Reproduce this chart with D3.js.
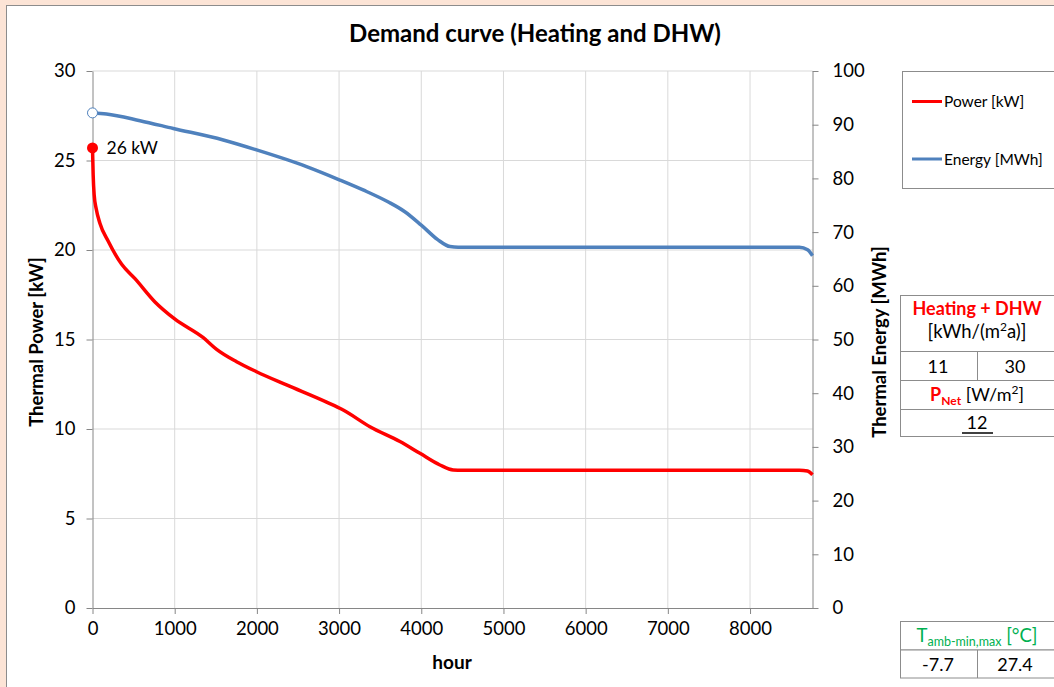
<!DOCTYPE html>
<html>
<head>
<meta charset="utf-8">
<script src="https://cdn.jsdelivr.net/npm/d3@7"></script>
<style>
  body { margin: 0; background: #fce4d6; }
  svg { display: block; font-family: Lato, "Open Sans", sans-serif; }
</style>
</head>
<body>
<svg id="root" width="1054" height="687"></svg>
<script>
(function () {
  // values
  const powerHours = [0, 8, 20, 45, 90, 190, 355, 517, 760, 1000, 1348, 1510, 1753, 1996, 2361, 2848, 3050, 3375, 3741, 3984, 4227, 4389, 4500, 6000, 8600, 8700, 8760];
  const powerValues = [25.7, 24.2, 23.1, 22.3, 21.5, 20.5, 19.2, 18.4, 17.1, 16.15, 15.1, 14.45, 13.76, 13.2, 12.46, 11.5, 11.06, 10.13, 9.3, 8.64, 7.99, 7.71, 7.7, 7.7, 7.7, 7.65, 7.45];

  const energyHours = [0, 170, 578, 983, 1591, 1996, 2604, 3010, 3300, 3600, 3800, 4000, 4200, 4350, 4450, 6000, 8600, 8700, 8760];
  const energyValues = [92.2, 92.0, 90.75, 89.3, 87.15, 85.3, 82.2, 79.7, 77.8, 75.6, 73.8, 71.3, 68.6, 67.3, 67.2, 67.2, 67.2, 66.7, 65.6];

  const xTicks = [0, 1000, 2000, 3000, 4000, 5000, 6000, 7000, 8000];
  const leftTicks = [0, 5, 10, 15, 20, 25, 30];
  const rightTicks = [0, 10, 20, 30, 40, 50, 60, 70, 80, 90, 100];

  const peakLabel = "26 kW";
  const legendItems = [
    { name: "Power [kW]", color: "#ff0000" },
    { name: "Energy [MWh]", color: "#4f81bd" }
  ];
  const specific = ["11", "30"];
  const pNet = "12";
  const tAmb = ["-7.7", "27.4"];

  const svg = d3.select("#root");
  const left = 92.5, right = 812.5, top = 71, bottom = 608;

  // chart panel
  svg.append("rect")
    .attr("x", 6.5).attr("y", 5.5)
    .attr("width", 1060).attr("height", 700)
    .attr("fill", "#fff").attr("stroke", "#8c8c8c");

  const x = d3.scaleLinear().domain([0, 8760]).range([left, right]);
  const yL = d3.scaleLinear().domain([0, 30]).range([bottom, top]);
  const yR = d3.scaleLinear().domain([0, 100]).range([bottom, top]);

  // grid
  svg.append("g").selectAll("line")
    .data(xTicks.filter(d => d > 0))
    .enter().append("line")
    .attr("x1", d => x(d)).attr("x2", d => x(d))
    .attr("y1", top).attr("y2", bottom)
    .attr("stroke", "#d9d9d9");

  svg.append("g").selectAll("line")
    .data(leftTicks.filter(d => d > 0))
    .enter().append("line")
    .attr("x1", left).attr("x2", right)
    .attr("y1", d => yL(d)).attr("y2", d => yL(d))
    .attr("stroke", "#d9d9d9");

  // axes
  function styleAxis(g) {
    g.select(".domain").attr("stroke", "#868686");
    g.selectAll(".tick line").attr("stroke", "#868686");
    g.selectAll(".tick text").attr("fill", "#000").style("font-size", "18.5px").style("font-family", "Lato, sans-serif");
  }

  svg.append("g")
    .attr("transform", `translate(0,${bottom})`)
    .call(d3.axisBottom(x).tickValues(xTicks).tickSize(6).tickSizeOuter(0).tickPadding(8).tickFormat(d3.format("d")))
    .call(styleAxis);

  svg.append("g")
    .attr("transform", `translate(${left},0)`)
    .call(d3.axisLeft(yL).tickValues(leftTicks).tickSize(6).tickSizeOuter(0).tickPadding(11))
    .call(styleAxis);

  svg.append("g")
    .attr("transform", `translate(${right},0)`)
    .call(d3.axisRight(yR).tickValues(rightTicks).tickSize(6).tickSizeOuter(0).tickPadding(14))
    .call(styleAxis);

  // lines
  const power = powerHours.map((h, i) => [h, powerValues[i]]);
  const energy = energyHours.map((h, i) => [h, energyValues[i]]);

  svg.append("path")
    .datum(energy)
    .attr("fill", "none").attr("stroke", "#4f81bd").attr("stroke-width", 3.5)
    .attr("d", d3.line().x(d => x(d[0])).y(d => yR(d[1])).curve(d3.curveMonotoneX));

  svg.append("path")
    .datum(power)
    .attr("fill", "none").attr("stroke", "#ff0000").attr("stroke-width", 3.5)
    .attr("d", d3.line().x(d => x(d[0])).y(d => yL(d[1])).curve(d3.curveMonotoneX));

  svg.append("circle")
    .attr("cx", x(energy[0][0])).attr("cy", yR(energy[0][1])).attr("r", 5)
    .attr("fill", "#fff").attr("stroke", "#4f81bd").attr("stroke-width", 1);

  svg.append("circle")
    .attr("cx", x(power[0][0])).attr("cy", yL(power[0][1])).attr("r", 5.5)
    .attr("fill", "#ff0000");

  svg.append("text")
    .attr("x", x(0) + 14).attr("y", yL(power[0][1]) + 6)
    .style("font-size", "17.5px").text(peakLabel);

  // titles
  svg.append("text")
    .attr("x", 535).attr("y", 42).attr("text-anchor", "middle")
    .style("font-size", "24px").style("font-weight", "bold")
    .text("Demand curve (Heating and DHW)");

  svg.append("text")
    .attr("x", 452).attr("y", 669).attr("text-anchor", "middle")
    .style("font-size", "19px").style("font-weight", "bold")
    .text("hour");

  svg.append("text")
    .attr("transform", "translate(43,342) rotate(-90)").attr("text-anchor", "middle")
    .style("font-size", "18.5px").style("font-weight", "bold")
    .text("Thermal Power [kW]");

  svg.append("text")
    .attr("transform", "translate(886,342) rotate(-90)").attr("text-anchor", "middle")
    .style("font-size", "18.5px").style("font-weight", "bold")
    .text("Thermal Energy [MWh]");

  // legend
  svg.append("rect")
    .attr("x", 902.5).attr("y", 71.5).attr("width", 170).attr("height", 117)
    .attr("fill", "#fff").attr("stroke", "#8c8c8c");

  const leg = svg.append("g").selectAll("g")
    .data(legendItems).enter().append("g")
    .attr("transform", (d, i) => `translate(912,${101.5 + i * 57.5})`);
  leg.append("line").attr("x1", 0).attr("x2", 30)
    .attr("stroke", d => d.color).attr("stroke-width", 3);
  leg.append("text").attr("x", 32).attr("y", 5.5)
    .style("font-size", "15.5px").text(d => d.name);

  // info table
  const tx = 900.5, tw = 160, tmid = 977.5, tcx = 977;
  const grid = svg.append("g").attr("stroke", "#8c8c8c").attr("fill", "#fff");
  grid.append("rect").attr("x", tx).attr("y", 295.5).attr("width", tw).attr("height", 56);
  grid.append("rect").attr("x", tx).attr("y", 351.5).attr("width", tw).attr("height", 29);
  grid.append("rect").attr("x", tx).attr("y", 380.5).attr("width", tw).attr("height", 29);
  grid.append("rect").attr("x", tx).attr("y", 409.5).attr("width", tw).attr("height", 27);
  grid.append("line").attr("x1", tmid).attr("x2", tmid).attr("y1", 351.5).attr("y2", 380.5);

  svg.append("text").attr("x", tcx).attr("y", 315).attr("text-anchor", "middle")
    .attr("fill", "#ff0000").style("font-size", "18px").style("font-weight", "bold")
    .text("Heating + DHW");

  const unit = svg.append("text").attr("x", tcx).attr("y", 338).attr("text-anchor", "middle")
    .style("font-size", "18.5px");
  unit.append("tspan").text("[kWh/(m");
  unit.append("tspan").attr("dy", -7).style("font-size", "12px").text("2");
  unit.append("tspan").attr("dy", 7).text("a)]");

  svg.append("g").selectAll("text").data(specific).enter().append("text")
    .attr("x", (d, i) => i === 0 ? 938 : 1015).attr("y", 373).attr("text-anchor", "middle")
    .style("font-size", "18px").text(d => d);

  const pn = svg.append("text").attr("x", tcx).attr("y", 401).attr("text-anchor", "middle")
    .style("font-size", "18px");
  pn.append("tspan").attr("fill", "#ff0000").style("font-weight", "bold").text("P");
  pn.append("tspan").attr("fill", "#ff0000").style("font-weight", "bold").style("font-size", "12px").attr("dy", 4).text("Net");
  pn.append("tspan").attr("dy", -4).text(" [W/m");
  pn.append("tspan").attr("dy", -7).style("font-size", "12px").text("2");
  pn.append("tspan").attr("dy", 7).text("]");

  svg.append("text").attr("x", tcx).attr("y", 429).attr("text-anchor", "middle")
    .style("font-size", "18px")
    .text(pNet);
  svg.append("line").attr("x1", 962).attr("x2", 993).attr("y1", 433).attr("y2", 433)
    .attr("stroke", "#000").attr("stroke-width", 1.5);

  // ambient temperature table
  const grid2 = svg.append("g").attr("stroke", "#8c8c8c").attr("fill", "#fff");
  grid2.append("rect").attr("x", tx).attr("y", 621.5).attr("width", tw).attr("height", 28.5);
  grid2.append("rect").attr("x", tx).attr("y", 650).attr("width", tw).attr("height", 28);
  grid2.append("line").attr("x1", tmid).attr("x2", tmid).attr("y1", 650).attr("y2", 678);

  const ta = svg.append("text").attr("x", tcx).attr("y", 642).attr("text-anchor", "middle")
    .attr("fill", "#00b050").style("font-size", "18.5px");
  ta.append("tspan").text("T");
  ta.append("tspan").attr("dy", 4).style("font-size", "12.5px").text("amb-min,max");
  ta.append("tspan").attr("dy", -4).text(" [°C]");

  svg.append("g").selectAll("text").data(tAmb).enter().append("text")
    .attr("x", (d, i) => i === 0 ? 938 : 1015).attr("y", 671).attr("text-anchor", "middle")
    .style("font-size", "18px").text(d => d);
})();
</script>
</body>
</html>
